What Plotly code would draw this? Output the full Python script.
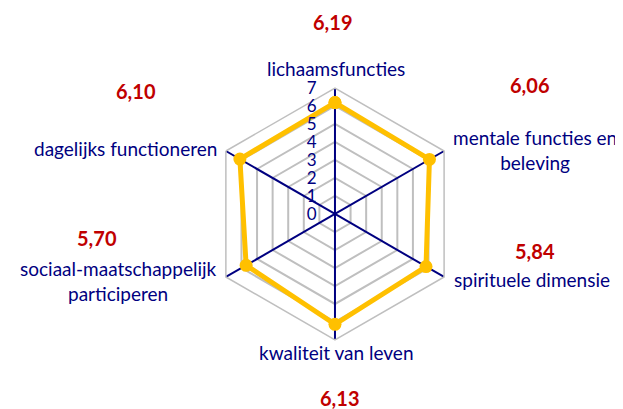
import plotly.graph_objects as go

categories = [
    "lichaamsfuncties",
    "mentale functies en<br>beleving",
    "spirituele dimensie",
    "kwaliteit van leven",
    "sociaal-maatschappelijk<br>participeren",
    "dagelijks functioneren",
]
scores = [6.19, 6.06, 5.84, 6.13, 5.70, 6.10]
radial_ticks = [0, 1, 2, 3, 4, 5, 6, 7]
r_max = 7

# where the category names sit (paper coords), centred text like in Excel
cat_x = [0.5265, 0.8460, 0.8410, 0.5265, 0.1780, 0.1890]
cat_y = [0.8533, 0.6528, 0.3350, 0.1565, 0.3325, 0.6553]

# spots for the red score labels (paper coords), hand-placed in the original
label_x = [0.5201, 0.8363, 0.8459, 0.5329, 0.1429, 0.2055]
label_y = [0.9658, 0.8117, 0.4059, 0.0465, 0.4377, 0.7971]

NAVY = "#000080"
GOLD = "#FFC000"
RED = "#C00000"
GREY = "#BFBFBF"
FONT = "Lato"

fig = go.Figure()

# navy spokes, drawn as traces so the grey rings don't cut them
for cat in categories:
    fig.add_trace(
        go.Scatterpolar(
            r=[0, r_max],
            theta=[cat, cat],
            mode="lines",
            line=dict(color=NAVY, width=2),
            hoverinfo="skip",
            showlegend=False,
        )
    )

fig.add_trace(
    go.Scatterpolar(
        r=scores + scores[:1],
        theta=categories + categories[:1],
        mode="lines+markers",
        line=dict(color=GOLD, width=5),
        marker=dict(color=GOLD, size=13),
        hoverinfo="skip",
        showlegend=False,
    )
)

for cat, x, y in zip(categories, cat_x, cat_y):
    fig.add_annotation(
        x=x, y=y, xref="paper", yref="paper",
        xanchor="center", yanchor="middle", align="center",
        text=cat, showarrow=False,
        font=dict(family=FONT, size=19, color=NAVY),
    )

for s, x, y in zip(scores, label_x, label_y):
    fig.add_annotation(
        x=x, y=y, xref="paper", yref="paper",
        xanchor="center", yanchor="middle",
        text="<b>" + f"{s:.2f}".replace(".", ",") + "</b>",
        showarrow=False,
        font=dict(family=FONT, size=20, color=RED),
    )

fig.update_layout(
    width=623,
    height=409,
    margin=dict(l=0, r=0, t=0, b=0),
    paper_bgcolor="white",
    plot_bgcolor="white",
    font=dict(family=FONT, size=19, color=NAVY),
    polar=dict(
        domain=dict(x=[0.3226, 0.7271], y=[0.1883, 0.8044]),
        gridshape="linear",
        bgcolor="white",
        radialaxis=dict(
            range=[0, r_max],
            tickvals=radial_ticks,
            angle=90,
            tickangle=90,
            side="counterclockwise",
            showline=False,
            gridcolor=GREY,
            gridwidth=1.5,
            # invisible ticks just to push the labels off the spoke
            ticks="outside",
            ticklen=12,
            tickcolor="rgba(0,0,0,0)",
            tickfont=dict(family=FONT, size=17, color=NAVY),
        ),
        angularaxis=dict(
            rotation=90,
            direction="clockwise",
            showline=True,
            linecolor=GREY,
            linewidth=1.5,
            showgrid=False,
            showticklabels=False,
            ticks="",
        ),
    ),
)

fig.write_html("out.html")
